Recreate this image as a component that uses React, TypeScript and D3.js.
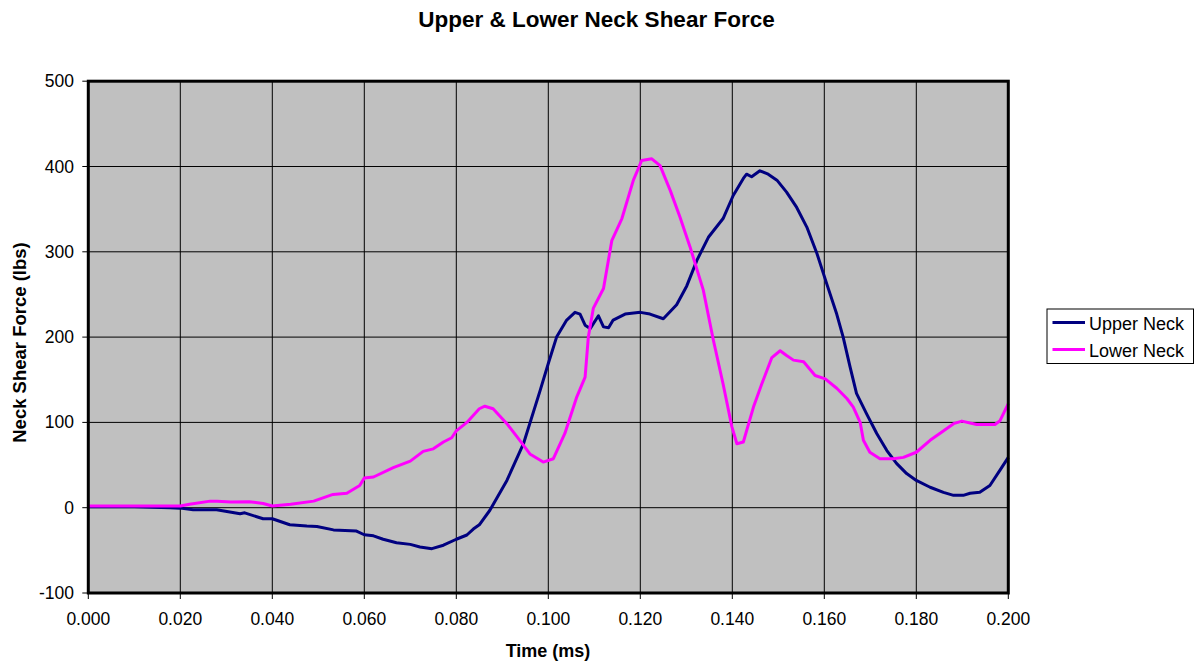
import React from "react";
import * as d3 from "d3";

const upperTime = [0, 0.01, 0.0178, 0.02, 0.0228, 0.0279, 0.033, 0.034, 0.038, 0.04, 0.0438, 0.0475, 0.0497, 0.0533, 0.0583, 0.06, 0.062, 0.0641, 0.067, 0.07, 0.0721, 0.0747, 0.0772, 0.08, 0.0823, 0.0837, 0.085, 0.0873, 0.091, 0.0946, 0.0982, 0.1, 0.1018, 0.104, 0.1058, 0.1069, 0.108, 0.1091, 0.1109, 0.112, 0.1131, 0.1141, 0.1167, 0.12, 0.1221, 0.125, 0.1279, 0.1301, 0.1323, 0.1348, 0.138, 0.1402, 0.1424, 0.1431, 0.1442, 0.146, 0.1478, 0.1497, 0.1518, 0.154, 0.1562, 0.1584, 0.1605, 0.1627, 0.1641, 0.1656, 0.167, 0.1692, 0.1714, 0.1736, 0.1757, 0.1779, 0.18, 0.183, 0.1859, 0.1881, 0.1902, 0.1917, 0.1938, 0.196, 0.1982, 0.2];
const upperForce = [1, 1, 0, -0.5, -2.4, -2.4, -7, -6, -13, -13, -20, -21.5, -22, -26, -27.4, -31.7, -33, -37, -41, -43, -46, -48, -44, -37, -32, -25, -20, -3, 32, 75, 137, 169, 200, 220, 229, 227, 214, 210, 225, 212, 211, 220, 227, 229, 227, 221.5, 238, 260, 290, 317, 339, 366, 386, 391, 388, 395, 391, 384, 370, 352, 329, 298, 263, 227, 200, 165, 134, 110, 87, 67, 52, 40, 32, 24, 18, 14.5, 14.5, 17, 18, 26, 44, 59];

const lowerTime = [0, 0.02, 0.022, 0.0265, 0.028, 0.031, 0.035, 0.038, 0.04, 0.044, 0.049, 0.0532, 0.0562, 0.059, 0.06, 0.062, 0.0663, 0.07, 0.0728, 0.075, 0.0772, 0.079, 0.08, 0.0823, 0.085, 0.0862, 0.088, 0.091, 0.0938, 0.096, 0.0989, 0.1011, 0.1036, 0.1062, 0.108, 0.1087, 0.1098, 0.112, 0.1138, 0.116, 0.1185, 0.1203, 0.1225, 0.1243, 0.1265, 0.1286, 0.1308, 0.1337, 0.1359, 0.138, 0.1399, 0.141, 0.1424, 0.1446, 0.1464, 0.1486, 0.1504, 0.1518, 0.1533, 0.1555, 0.158, 0.1602, 0.1627, 0.1649, 0.1663, 0.1678, 0.1685, 0.1699, 0.1721, 0.175, 0.1772, 0.18, 0.183, 0.1851, 0.1881, 0.1899, 0.1931, 0.1971, 0.1982, 0.2];
const lowerForce = [2, 2, 4, 7.7, 7.5, 6.6, 7, 5, 2, 4, 7.7, 15.6, 17, 26, 34.7, 36, 47, 54.6, 66, 69, 77, 82, 90, 100, 116, 119, 116, 98.5, 79, 63, 53.5, 57.4, 87, 130, 153, 200, 234, 257, 313, 339, 384, 407, 409, 401, 372, 341, 306, 255, 196, 145, 95, 75, 77, 118, 145, 176, 184, 178.5, 173, 171, 155, 151, 140, 128, 118, 100, 79, 65, 57.4, 57.4, 59, 65, 79, 87, 98.5, 101.5, 97.6, 97.6, 102, 122];

const xTicks = [0, 0.02, 0.04, 0.06, 0.08, 0.1, 0.12, 0.14, 0.16, 0.18, 0.2];
const yTicks = [-100, 0, 100, 200, 300, 400, 500];
const seriesNames = ["Upper Neck", "Lower Neck"];
const seriesColors = ["#000080", "#FF00FF"];

const W = 1201, H = 668;
const left = 88.3, right = 1008.3, top = 81.2, bottom = 593;

export default function App() {
  const x = d3.scaleLinear().domain([0, 0.2]).range([left, right]);
  const y = d3.scaleLinear().domain([-100, 500]).range([bottom, top]);
  const line = d3.line<[number, number]>().x(d => x(d[0])).y(d => y(d[1]));
  const upper = upperTime.map((t, i) => [t, upperForce[i]] as [number, number]);
  const lower = lowerTime.map((t, i) => [t, lowerForce[i]] as [number, number]);
  const font = "Arial, 'Liberation Sans', sans-serif";
  return (
    <svg width={W} height={H} style={{ position: "absolute", left: 0, top: 0 }} fontFamily={font}>
      <rect x={0} y={0} width={W} height={H} fill="#fff" />
      <text x={596.5} y={27} textAnchor="middle" fontSize={22.5} fontWeight="bold">Upper &amp; Lower Neck Shear Force</text>
      <rect x={left} y={top} width={right - left} height={bottom - top} fill="#C0C0C0" />
      {xTicks.map(t => (
        <g key={"x" + t}>
          <line x1={x(t)} x2={x(t)} y1={top} y2={bottom + 6} stroke="#000" strokeWidth={1} />
          <text x={x(t)} y={625} textAnchor="middle" fontSize={17.5}>{t.toFixed(3)}</text>
        </g>
      ))}
      {yTicks.map(v => (
        <g key={"y" + v}>
          <line x1={left - 6} x2={right} y1={y(v)} y2={y(v)} stroke="#000" strokeWidth={1} />
          <text x={74} y={y(v) + 6} textAnchor="end" fontSize={17.5}>{v}</text>
        </g>
      ))}
      <path d={line(upper) || ""} fill="none" stroke={seriesColors[0]} strokeWidth={3} strokeLinejoin="round" />
      <path d={line(lower) || ""} fill="none" stroke={seriesColors[1]} strokeWidth={3} strokeLinejoin="round" />
      <rect x={left} y={top} width={right - left} height={bottom - top} fill="none" stroke="#000" strokeWidth={3} />
      <text x={548} y={657} textAnchor="middle" fontSize={18} fontWeight="bold">Time (ms)</text>
      <text transform={`translate(26,342.5) rotate(-90)`} textAnchor="middle" fontSize={18.5} fontWeight="bold">Neck Shear Force (lbs)</text>
      <rect x={1047} y={309} width={146.5} height={54.5} fill="#fff" stroke="#000" strokeWidth={1} />
      {seriesNames.map((n, i) => (
        <g key={n}>
          <line x1={1052.5} x2={1085} y1={322.5 + i * 27} y2={322.5 + i * 27} stroke={seriesColors[i]} strokeWidth={3} />
          <text x={1089} y={329.5 + i * 27} fontSize={18}>{n}</text>
        </g>
      ))}
    </svg>
  );
}
